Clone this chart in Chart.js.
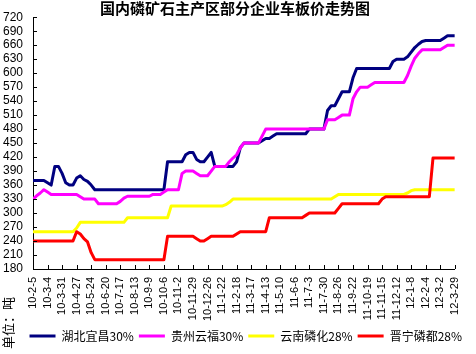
<!DOCTYPE html>
<html>
<head>
<meta charset="utf-8">
<script src="https://cdn.jsdelivr.net/npm/chart.js@4.4.1/dist/chart.umd.min.js"></script>
<style>
html, body { margin: 0; padding: 0; background: #fff; }
#wrap { width: 476px; height: 354px; }
</style>
</head>
<body>
<div id="wrap"><canvas id="priceChart" width="476" height="354"></canvas></div>
<script>
// tick labels, one every 4 weekly points
var tickLabels = ["10-2-5", "10-3-4", "10-3-31", "10-4-27", "10-5-24", "10-6-20", "10-7-17", "10-8-13",
    "10-9-9", "10-10-6", "10-11-2", "10-11-29", "10-12-26", "11-1-22", "11-2-18", "11-3-17", "11-4-13",
    "11-5-10", "11-6-6", "11-7-3", "11-7-30", "11-8-26", "11-9-22", "11-10-19", "11-11-15", "11-12-12",
    "12-1-8", "12-2-4", "12-3-2", "12-3-29"];
var pointsPerTick = 4;

var seriesNames = ["湖北宜昌30%", "贵州云福30%", "云南磷化28%", "晋宁磷都28%"];
var seriesColors = ["#000080", "#FF00FF", "#FFFF00", "#FF0000"];

// prices (yuan/ton)
var hubei = [370, 370, 370, 370, 365, 360, 400, 400, 385, 365, 360, 360, 375, 380, 372, 368, 360,
    350, 350, 350, 350, 350, 350, 350, 350, 350, 350, 350, 350, 350, 350, 350, 350, 350, 350, 350, 350,
    410, 410, 410, 410, 410, 425, 430, 430, 415, 410, 410, 420, 430,
    400, 400, 400, 400, 400, 400, 410, 440, 450, 450, 450, 450, 450, 455, 460, 460, 465,
    470, 470, 470, 470, 470, 470, 470, 470, 470, 480, 480, 480, 480, 480,
    520, 530, 530, 545, 560, 560, 560, 590,
    610, 610, 610, 610, 610, 610, 610, 610, 610, 610, 625, 630, 630, 630,
    635, 645, 655, 662, 668, 670, 670, 670, 670, 670, 675, 680, 680, 680];

var guizhou = [330, 337, 343, 350, 345, 340, 340, 340, 340, 340, 340, 340, 340, 335, 330, 330, 330, 330,
    320, 320, 320, 320, 320, 320, 325, 332, 336, 336, 336, 336, 336, 336, 336, 340, 340, 340,
    345, 350, 350, 350, 350, 385, 390, 390, 390, 385, 380, 380, 380, 390, 400, 400, 400, 400,
    410, 418, 425, 440, 450, 450, 450, 450, 450, 465,
    480, 480, 480, 480, 480, 480, 480, 480, 480, 480, 480, 480, 480, 480, 480, 480, 480,
    500, 500, 500, 505, 510, 510, 510, 545, 560, 570, 570, 570, 575,
    580, 580, 580, 580, 580, 580, 580, 580, 580, 595, 615, 632, 642,
    650, 650, 650, 650, 650, 650, 655, 660, 660, 660];

var yunnan = [260, 260, 260, 260, 260, 260, 260, 260, 260, 260, 260, 260, 268,
    280, 280, 280, 280, 280, 280, 280, 280, 280, 280, 280, 280, 280,
    290, 290, 290, 290, 290, 290, 290, 290, 290, 290, 290, 290,
    315, 315, 315, 315, 315, 315, 315, 315, 315, 315, 315, 315, 315, 315, 315, 318, 323,
    330, 330, 330, 330, 330, 330, 330, 330, 330, 330, 330, 330, 330, 330, 330, 330, 330, 330, 330, 330,
    330, 330, 330, 330, 330, 330, 330, 330, 335,
    340, 340, 340, 340, 340, 340, 340, 340, 340, 340, 340, 340, 340, 340, 340, 340, 340, 340, 340,
    343, 348, 350, 350, 350, 350, 350, 350, 350, 350, 350, 350, 350, 350];

var jinning = [240, 240, 240, 240, 240, 240, 240, 240, 240, 240, 240, 240, 260, 255, 245, 238, 215,
    200, 200, 200, 200, 200, 200, 200, 200, 200, 200, 200, 200, 200, 200, 200, 200, 200, 200, 200, 200,
    250, 250, 250, 250, 250, 250, 250, 250, 245, 240, 240, 245, 250, 250, 250, 250, 250, 250, 250,
    255, 260, 260, 260, 260, 260, 260, 260, 260,
    290, 290, 290, 290, 290, 290, 290, 290, 290, 290, 295, 300, 300, 300, 300, 300, 300, 300, 300, 310,
    320, 320, 320, 320, 320, 320, 320, 320, 320, 320, 320, 330,
    335, 335, 335, 335, 335, 335, 335, 335, 335, 335, 335, 335, 335,
    418, 418, 418, 418, 418, 418, 418];

var yMin = 180, yMax = 720, yStep = 30;

var cjkFont = '"Noto Sans CJK SC", "Liberation Sans", sans-serif';
var numFont = '"Liberation Sans", "DejaVu Sans", sans-serif';

function toPoints(values) {
    return values.map(function (v, i) { return { x: i, y: v }; });
}

var allSeries = [hubei, guizhou, yunnan, jinning];
var datasets = allSeries.map(function (values, k) {
    return {
        label: seriesNames[k],
        data: toPoints(values),
        borderColor: seriesColors[k],
        backgroundColor: seriesColors[k],
        borderWidth: 3,
        pointRadius: 0,
        tension: 0,
        borderJoinStyle: 'round',
        order: allSeries.length - k   // later series on top, like the original
    };
});

// inward ticks, the title and the unit text
var decorPlugin = {
    id: 'decor',
    afterDraw: function (chart) {
        var ctx = chart.ctx;
        var xs = chart.scales.x, ys = chart.scales.y;
        ctx.save();
        ctx.strokeStyle = '#000';
        ctx.lineWidth = 1;
        ctx.beginPath();
        ys.ticks.forEach(function (t) {
            var y = Math.round(ys.getPixelForValue(t.value)) + 0.5;
            ctx.moveTo(xs.left, y);
            ctx.lineTo(xs.left + 4, y);
        });
        xs.ticks.forEach(function (t) {
            var x = Math.round(xs.getPixelForValue(t.value)) + 0.5;
            ctx.moveTo(x, ys.bottom);
            ctx.lineTo(x, ys.bottom - 4);
        });
        ctx.stroke();

        ctx.fillStyle = '#000';
        ctx.font = 'bold 15px ' + cjkFont;
        ctx.textAlign = 'center';
        ctx.textBaseline = 'middle';
        ctx.fillText('国内磷矿石主产区部分企业车板价走势图', 235, 8);

        ctx.translate(8, 297);
        ctx.rotate(-Math.PI / 2);
        ctx.font = '13px ' + cjkFont;
        ctx.textAlign = 'right';
        ctx.fillText('单位：吨', 0, 0);
        ctx.restore();
    }
};

var ctx = document.getElementById('priceChart').getContext('2d');
var priceChart = new Chart(ctx, {
    type: 'line',
    data: { datasets: datasets },
    options: {
        responsive: false,
        animation: false,
        devicePixelRatio: 1,
        layout: { padding: { left: 0, right: 9, top: 8, bottom: 2 } },
        plugins: {
            title: { display: false },
            tooltip: { enabled: false },
            legend: {
                position: 'bottom',
                align: 'end',
                labels: {
                    boxWidth: 26,
                    boxHeight: 3,
                    padding: 5,
                    color: '#000',
                    font: { family: cjkFont, size: 12 },
                    sort: function (a, b) { return a.datasetIndex - b.datasetIndex; },
                    generateLabels: function (chart) {
                        var items = Chart.defaults.plugins.legend.labels.generateLabels(chart);
                        items.forEach(function (it) { it.lineWidth = 0; });
                        return items;
                    }
                }
            }
        },
        scales: {
            x: {
                type: 'linear',
                min: 0,
                max: (tickLabels.length - 1) * pointsPerTick,
                grid: { display: false, drawTicks: false },
                border: { display: true, color: '#000', width: 1 },
                ticks: {
                    stepSize: pointsPerTick,
                    autoSkip: false,
                    minRotation: 90,
                    maxRotation: 90,
                    padding: 8,
                    color: '#000',
                    font: { family: numFont, size: 11 },
                    callback: function (v) { return tickLabels[Math.round(v / pointsPerTick)]; }
                },
                afterFit: function (scale) { scale.height = 56; }
            },
            y: {
                min: yMin,
                max: yMax,
                grid: { display: false, drawTicks: false },
                border: { display: true, color: '#000', width: 1 },
                ticks: {
                    stepSize: yStep,
                    autoSkip: false,
                    padding: 10,
                    color: '#000',
                    font: { family: numFont, size: 12 }
                },
                afterFit: function (scale) { scale.width = 33; }
            }
        }
    },
    plugins: [decorPlugin]
});
</script>
</body>
</html>
